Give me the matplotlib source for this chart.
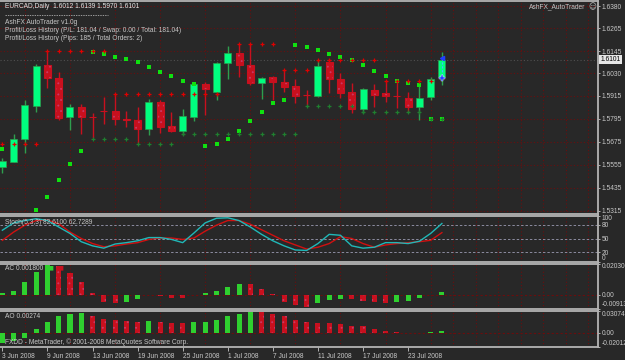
import numpy as np
import matplotlib.pyplot as plt
from matplotlib.lines import Line2D

# EURCAD daily, 3 Jun 2008 .. 28 Jul 2008
dates = ["3 Jun 2008", "9 Jun 2008", "13 Jun 2008", "19 Jun 2008", "25 Jun 2008",
         "1 Jul 2008", "7 Jul 2008", "11 Jul 2008", "17 Jul 2008", "23 Jul 2008"]
date_bars = [0, 4, 8, 12, 16, 20, 24, 28, 32, 36]

opens = [1.5545, 1.5571, 1.5688, 1.5862, 1.6072, 1.6008, 1.5802, 1.5854, 1.5803, 1.5837,
         1.5836, 1.5792, 1.5788, 1.5741, 1.5883, 1.5757, 1.5732, 1.5805, 1.5975, 1.5935,
         1.6085, 1.6134, 1.6074, 1.5982, 1.6010, 1.5987, 1.5964, 1.5919, 1.5914, 1.6091,
         1.5999, 1.5933, 1.5845, 1.5944, 1.5926, 1.5913, 1.5904, 1.5854, 1.5906, 1.6012]
highs = [1.5590, 1.5715, 1.5892, 1.6077, 1.6148, 1.6036, 1.5871, 1.5871, 1.5823, 1.5906,
         1.5921, 1.5836, 1.5854, 1.5895, 1.5892, 1.5831, 1.5843, 1.5987, 1.5985, 1.6089,
         1.6172, 1.6181, 1.6181, 1.6013, 1.6016, 1.6048, 1.5999, 1.5944, 1.6099, 1.6103,
         1.6033, 1.5978, 1.5952, 1.5973, 1.5996, 1.5996, 1.5935, 1.5987, 1.6013, 1.6139]
lows = [1.5512, 1.5567, 1.5615, 1.5831, 1.5952, 1.5788, 1.5736, 1.5715, 1.5693, 1.5767,
        1.5762, 1.5753, 1.5667, 1.5708, 1.5719, 1.5728, 1.5708, 1.5784, 1.5814, 1.5892,
        1.5999, 1.6013, 1.5970, 1.5897, 1.5892, 1.5935, 1.5875, 1.5866, 1.5909, 1.5926,
        1.5901, 1.5823, 1.5823, 1.5857, 1.5883, 1.5849, 1.5831, 1.5788, 1.5892, 1.5970]
closes = [1.5575, 1.5688, 1.5866, 1.6068, 1.6004, 1.5797, 1.5854, 1.5802, 1.5801, 1.5835,
          1.5791, 1.5790, 1.5740, 1.5883, 1.5750, 1.5732, 1.5809, 1.5975, 1.5947, 1.6085,
          1.6137, 1.6072, 1.5978, 1.6004, 1.5984, 1.5958, 1.5914, 1.5917, 1.6068, 1.5999,
          1.5930, 1.5845, 1.5947, 1.5918, 1.5912, 1.5911, 1.5854, 1.5901, 1.5999, 1.6101]

nan = np.nan
# parabolic SAR dots
sar = [1.5637, nan, nan, 1.5320, 1.5388, 1.5476, 1.5559, 1.5627,
       1.6143, 1.6131, 1.6115, 1.6105, 1.6089, 1.6063, 1.6037, 1.6016, 1.5990, 1.5975,
       1.5653, 1.5663, 1.5689, 1.5731, 1.5783, 1.5829, 1.5876, 1.5892,
       1.6177, 1.6167, 1.6151, 1.6131, 1.6115, 1.6099, 1.6074, 1.6042, 1.6016, 1.5990,
       1.5980, 1.5970, 1.5793, 1.5793]
# fractal resistance / support levels (small crosses)
resist = ([1.5662] * 4 + [1.6148] * 6 + [1.5921] * 10 + [nan] + [1.6181] * 4
          + [1.6048] * 3 + [1.6099] * 6 + [1.5990] * 5 + [nan])
support = ([nan] * 8 + [1.5688] * 4 + [1.5662] * 4 + [1.5715] * 11 + [1.5862] * 5
           + [1.5828] * 6 + [1.5793] * 2)

# trade marks on last bar
trade_bar = [39, 39]
trade_price = [1.6110, 1.6004]

stoch_k = [68, 84, 89, 93, 89, 75, 61, 43, 34, 29, 38, 41, 45, 52, 52, 48, 41, 62, 84, 94,
           95, 89, 75, 59, 45, 34, 25, 24, 39, 59, 57, 34, 29, 31, 41, 41, 39, 44, 61, 82.61]
stoch_d = [46, 64, 79, 89, 90, 82, 64, 50, 39, 32, 34, 38, 41, 48, 51, 51, 48, 51, 66, 79,
           89, 89, 81, 69, 57, 45, 36, 27, 31, 39, 54, 50, 39, 31, 36, 39, 41, 43, 46, 62.73]

ac = [0.0008, 0.0024, 0.0081, 0.0146, 0.0195, 0.0188, 0.0140, 0.0081, 0.0008, -0.0046,
      -0.0057, -0.0046, -0.0031, -0.0003, -0.0009, -0.0024, -0.0025, -0.0004, 0.0007, 0.0024,
      0.0050, 0.0070, 0.0069, 0.0035, 0.0002, -0.0046, -0.0068, -0.0083, -0.0057, -0.0035,
      -0.0030, -0.0032, -0.0039, -0.0051, -0.0053, -0.0046, -0.0039, -0.0024, -0.0003, 0.0018]
ao = [-0.0141, -0.0118, -0.0071, 0.0047, 0.0141, 0.0226, 0.0259, 0.0273, 0.0226, 0.0188,
      0.0174, 0.0165, 0.0151, 0.0165, 0.0151, 0.0132, 0.0130, 0.0141, 0.0151, 0.0174,
      0.0226, 0.0259, 0.0283, 0.0280, 0.0259, 0.0226, 0.0179, 0.0141, 0.0135, 0.0130,
      0.0118, 0.0094, 0.0085, 0.0047, 0.0022, 0.0008, -0.0005, -0.0010, 0.0010, 0.00274]

price_ticks = [1.6380, 1.6265, 1.6145, 1.6030, 1.5915, 1.5795, 1.5675, 1.5555, 1.5435, 1.5315]

BG = '#282828'
FG = '#C8C8C8'
SPINE = '#B4B4B4'
GRID = '#6a0e0e'
BULL = '#00FF7F'
BULL_WICK = '#2E9E4E'
BEAR = '#C8101E'
DOTS = '#C83A66'
GREEN = '#2FD02F'
FS = 4.8
W, H = 625, 360

plt.rcParams['font.family'] = ['Liberation Sans', 'DejaVu Sans']
plt.rcParams['font.size'] = FS
plt.rcParams['hatch.linewidth'] = 0.6

fig = plt.figure(figsize=(W / 100, H / 100), dpi=100, facecolor=BG)


def panel(top, bottom):
    ax = fig.add_axes([0, 1 - bottom / H, 598 / W, (bottom - top) / H])
    ax.set_facecolor(BG)
    ax.set_axisbelow(True)
    for s in ('top', 'bottom', 'right'):
        ax.spines[s].set_color(SPINE)
        ax.spines[s].set_linewidth(1.3)
    ax.spines['left'].set_visible(False)
    ax.set_xlim(-0.21, 52.85)
    ax.set_xticks(date_bars)
    ax.set_xticks(np.arange(0, 53, 2), minor=True)
    ax.tick_params(axis='x', which='both', length=0, labelbottom=False)
    ax.grid(which='minor', axis='x', color=GRID, ls=(0, (1, 2)), lw=0.8)
    ax.yaxis.tick_right()
    ax.tick_params(axis='y', colors=FG, labelsize=FS, length=1.5, width=0.6, pad=1)
    return ax


def txt(x, y, s, **kw):
    kw.setdefault('color', FG)
    fig.text(x / W, 1 - y / H, s, ha=kw.pop('ha', 'left'), va=kw.pop('va', 'center'), **kw)


def colored_bars(ax, vals):
    vals = np.array(vals)
    x = np.arange(len(vals))
    up = np.r_[True, vals[1:] >= vals[:-1]]
    ax.bar(x[up], vals[up], width=0.45, color=GREEN, lw=0, zorder=3)
    ax.bar(x[~up], vals[~up], width=0.45, color=BEAR, hatch='...', edgecolor=DOTS, lw=0, zorder=3)


x = np.arange(len(opens))
o, h, l, c = (np.array(v) for v in (opens, highs, lows, closes))
up = c > o

# ---- main price panel ----
ax = panel(1, 213.5)
ax.set_ylim(1.5302, 1.6406)
ax.set_yticks(price_ticks)
ax.set_yticklabels(['%.4f' % p for p in price_ticks])
ax.grid(which='major', axis='y', color=GRID, ls=(0, (1, 2)), lw=0.8)
ax.axhline(closes[-1], color='#505050', ls=(0, (1, 2)), lw=0.8, zorder=1)

ax.vlines(x[up], l[up], h[up], color=BULL_WICK, lw=1, zorder=2)
ax.vlines(x[~up], l[~up], h[~up], color=BEAR, lw=1, zorder=2)
ax.bar(x[up], (c - o)[up], bottom=o[up], width=0.62, color=BULL, edgecolor=BULL_WICK, lw=0.5, zorder=3)
ax.bar(x[~up], (c - o)[~up], bottom=o[~up], width=0.62, color=BEAR, hatch='...',
       edgecolor=DOTS, lw=0, zorder=3)
ax.bar(x[~up], (c - o)[~up], bottom=o[~up], width=0.62, fill=False, edgecolor=BEAR, lw=0.8, zorder=3)

ax.plot(x, sar, 's', color='#10E010', ms=2.8, mew=0, zorder=4)
ax.plot(x, resist, '+', color='#E00000', ms=3, mew=0.9, zorder=4)
ax.plot(x, support, '+', color='#1F7F2F', ms=3, mew=0.9, zorder=4)
ax.plot(trade_bar, trade_price, color='#40C0FF', ls=(0, (2, 1.5)), lw=0.8, zorder=5)
ax.plot(trade_bar[0], trade_price[0], '<', color='#2040FF', ms=3, zorder=5)
ax.plot(trade_bar[1], trade_price[1], 'P', color='#2040FF', mec='white', mew=0.3, ms=4, zorder=5)

ax.text(1.004, closes[-1], '%.4f' % closes[-1], transform=ax.get_yaxis_transform(),
        color='black', fontsize=FS, va='center', ha='left',
        bbox=dict(boxstyle='square,pad=0.15', fc='#E6E6E6', ec='none'))

txt(5, 7, 'EURCAD,Daily  1.6012 1.6139 1.5970 1.6101', color='#E6E6E6')
fig.add_artist(Line2D([5 / W, 108 / W], [1 - 15 / H] * 2, color=FG, lw=0.5, ls=(0, (2, 1.5))))
txt(5, 23, 'AshFX AutoTrader v1.0g')
txt(5, 31, 'Profit/Loss History (P/L: 181.04 / Swap: 0.00 / Total: 181.04)')
txt(5, 39, 'Profit/Loss History (Pips: 185 / Total Orders: 2)')
txt(585, 7, 'AshFX_AutoTrader', ha='right')
txt(588, 7, '\u263a', family=['DejaVu Sans'], fontsize=5.5)

# ---- stochastic ----
ax2 = panel(215.5, 261.5)
ax2.set_ylim(0, 100)
for lev in (80, 50, 20):
    ax2.axhline(lev, color='#8C8CA0', ls=(0, (2.5, 2)), lw=0.7, zorder=1)
ax2.plot(x, stoch_d, color='#D01010', lw=1, zorder=3)
ax2.plot(x, stoch_k, color='#20B8B8', lw=1, zorder=3)
ax2.set_yticks([100, 80, 50, 20, 0])
ax2.set_yticklabels(['100', '80', '50', '20', '0'])
labs = ax2.get_yticklabels()
labs[0].set_va('top')
labs[-1].set_va('bottom')
txt(5, 222, 'Stoch(5,3,3) 82.6100 62.7289')

# ---- accelerator oscillator ----
ax3 = panel(263.5, 308.5)
ax3.set_ylim(-0.00913, 0.0203)
ax3.axhline(0, color=GRID, ls=(0, (2, 2)), lw=0.8, zorder=1)
colored_bars(ax3, ac)
ax3.set_yticks([0.0203, 0.0, -0.00913])
ax3.set_yticklabels(['0.02030', '0.00', '-0.00913'])
labs = ax3.get_yticklabels()
labs[0].set_va('top')
labs[-1].set_va('bottom')
txt(5, 269, 'AC 0.001800')
txt(47, 268, '\u25a0', color=GREEN, family=['DejaVu Sans'], fontsize=4.5)
txt(57, 268, '\u25a0', color=BEAR, family=['DejaVu Sans'], fontsize=4.5)

# ---- awesome oscillator ----
ax4 = panel(310.5, 347)
ax4.set_ylim(-0.02012, 0.03074)
ax4.axhline(0, color=GRID, ls=(0, (2, 2)), lw=0.8, zorder=1)
colored_bars(ax4, ao)
ax4.set_yticks([0.03074, 0.0, -0.02012])
ax4.set_yticklabels(['0.03074', '0.00', '-0.02012'])
labs = ax4.get_yticklabels()
labs[0].set_va('top')
labs[-1].set_va('bottom')
ax4.set_xticks(date_bars)
ax4.set_xticklabels(dates)
ax4.tick_params(axis='x', which='major', length=3, width=0.6, colors=FG, labelbottom=True,
                pad=1.5, labelsize=FS)
for lb in ax4.get_xticklabels():
    lb.set_ha('left')
txt(5, 316, 'AO 0.00274')
txt(5, 342, 'FXDD - MetaTrader, \u00a9 2001-2008 MetaQuotes Software Corp.')

fig.savefig('out.png', dpi=100, facecolor=BG)
